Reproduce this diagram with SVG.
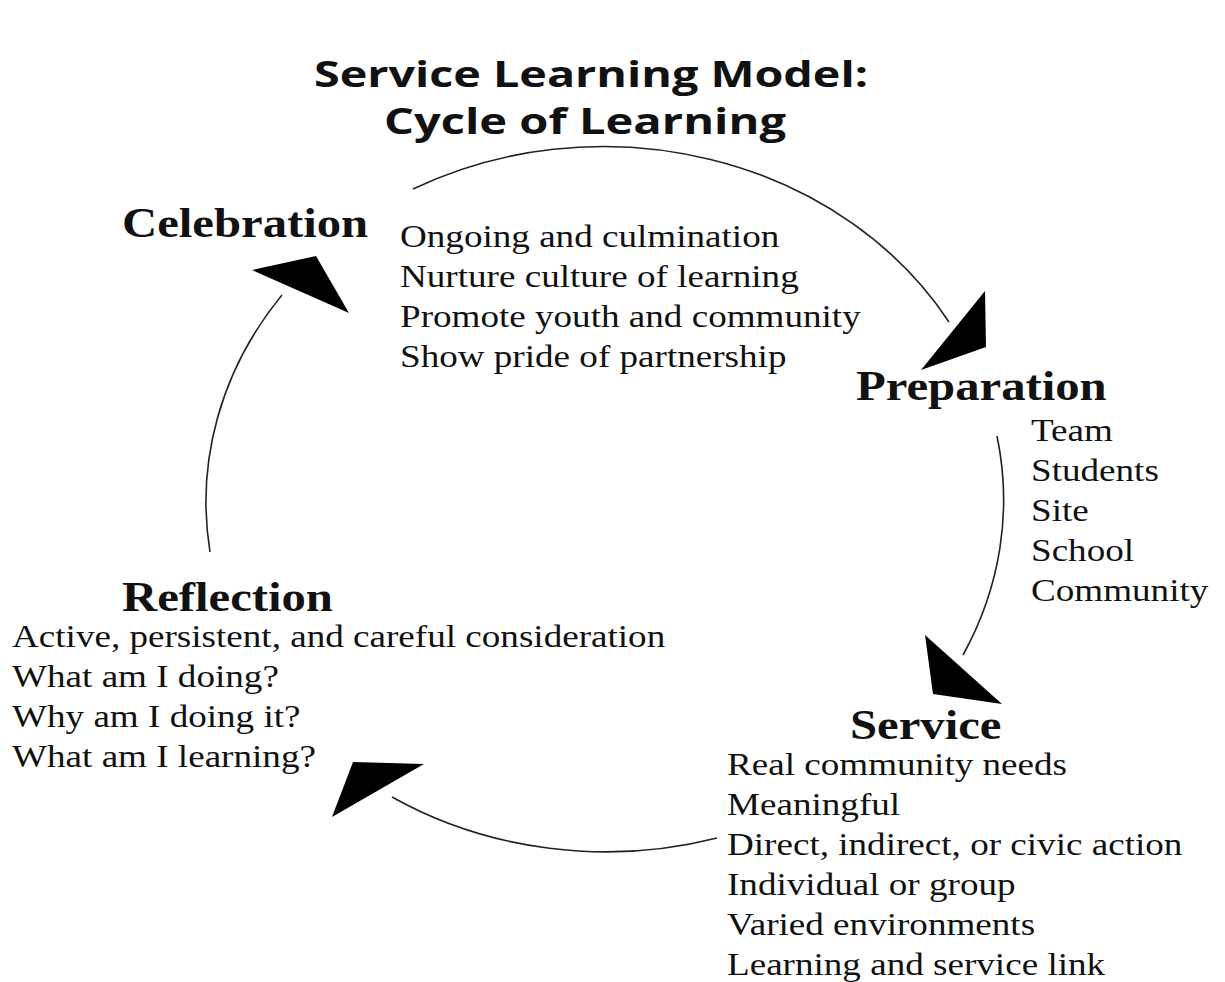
<svg xmlns="http://www.w3.org/2000/svg" width="1225" height="982" viewBox="0 0 1225 982">
<style>
.title{font-family:"Open Sans","DejaVu Sans",sans-serif;font-weight:bold;font-size:35px;fill:#111}
.h{font-family:"Liberation Serif","Times New Roman",serif;font-weight:bold;font-size:42px;fill:#111}
.b{font-family:"Liberation Serif","Times New Roman",serif;font-size:32px;fill:#111}
.arc{fill:none;stroke:#222;stroke-width:1.6}
.head{fill:#000}
</style>
<rect width="1225" height="982" fill="#fff"/>
<g id="title">
<text class="title" x="314" y="87" textLength="554" lengthAdjust="spacingAndGlyphs">Service Learning Model:</text>
<text class="title" x="384" y="134" textLength="402" lengthAdjust="spacingAndGlyphs">Cycle of Learning</text>
</g>
<g id="connectors">
<path class="arc" d="M413,189 A400,353 0 0 1 949,322"/>
<polygon class="head" points="985,291 986,347 921,370"/>
<path class="arc" d="M997,436 A400,353 0 0 1 963,655"/>
<polygon class="head" points="925,635 1002,704 933,694"/>
<path class="arc" d="M717,838 A400,353 0 0 1 392,797"/>
<polygon class="head" points="353,762 424,764 332,817"/>
<path class="arc" d="M210,552 A400,353 0 0 1 282,295"/>
<polygon class="head" points="252,270 316,256 349,313"/>
</g>
<g id="celebration">
<text class="h" transform="translate(122,237) scale(1.16,1)">Celebration</text>
<text class="b" transform="translate(400,247) scale(1.16,1)"><tspan x="0" y="0">Ongoing and culmination</tspan><tspan x="0" y="40">Nurture culture of learning</tspan><tspan x="0" y="80">Promote youth and community</tspan><tspan x="0" y="120">Show pride of partnership</tspan></text>
</g>
<g id="preparation">
<text class="h" transform="translate(856,400) scale(1.16,1)">Preparation</text>
<text class="b" transform="translate(1031,441) scale(1.16,1)"><tspan x="0" y="0">Team</tspan><tspan x="0" y="40">Students</tspan><tspan x="0" y="80">Site</tspan><tspan x="0" y="120">School</tspan><tspan x="0" y="160">Community</tspan></text>
</g>
<g id="service">
<text class="h" transform="translate(850,739) scale(1.16,1)">Service</text>
<text class="b" transform="translate(727,775) scale(1.16,1)"><tspan x="0" y="0">Real community needs</tspan><tspan x="0" y="40">Meaningful</tspan><tspan x="0" y="80">Direct, indirect, or civic action</tspan><tspan x="0" y="120">Individual or group</tspan><tspan x="0" y="160">Varied environments</tspan><tspan x="0" y="200">Learning and service link</tspan></text>
</g>
<g id="reflection">
<text class="h" transform="translate(122,611) scale(1.16,1)">Reflection</text>
<text class="b" transform="translate(12,647) scale(1.16,1)"><tspan x="0" y="0">Active, persistent, and careful consideration</tspan><tspan x="0" y="40">What am I doing?</tspan><tspan x="0" y="80">Why am I doing it?</tspan><tspan x="0" y="120">What am I learning?</tspan></text>
</g>
</svg>
